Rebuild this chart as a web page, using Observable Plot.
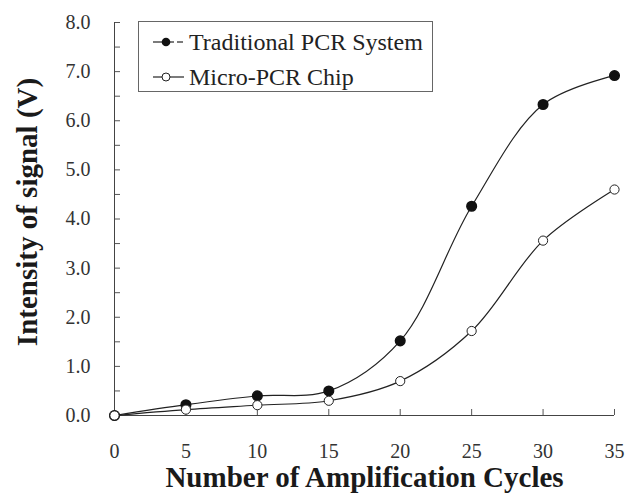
<!DOCTYPE html>
<html><head><meta charset="utf-8">
<script src="https://cdn.jsdelivr.net/npm/d3@7"></script>
<script src="https://cdn.jsdelivr.net/npm/@observablehq/plot@0.6"></script>
<style>
body{margin:0;background:#fff;}
#wrap{position:relative;width:626px;height:493px;}
#legend{position:absolute;left:138px;top:21px;width:293px;height:69px;border:1px solid #666;background:#fff;color:#222;}
.row{position:absolute;left:0;height:30px;display:flex;align-items:center;white-space:nowrap;}
.row svg{margin-left:14px;margin-right:2px;}
.row span{font-family:'Liberation Serif','Times New Roman',serif;font-size:24px;}
</style></head>
<body><div id="wrap"><div id="legend"></div></div>
<script>
const cycles = [0, 5, 10, 15, 20, 25, 30, 35];
const traditional = [0, 0.22, 0.40, 0.50, 1.52, 4.26, 6.33, 6.92];
const microChip = [0, 0.12, 0.21, 0.30, 0.70, 1.72, 3.56, 4.60];
const seriesNames = ["Traditional PCR System", "Micro-PCR Chip"];
const xTicks = [0, 5, 10, 15, 20, 25, 30, 35];
const yTicks = [0, 1, 2, 3, 4, 5, 6, 7, 8];
const yMinorTicks = [0, 0.5, 1, 1.5, 2, 2.5, 3, 3.5, 4, 4.5, 5, 5.5, 6, 6.5, 7, 7.5, 8];
const xTitle = "Number of Amplification Cycles";
const yTitle = "Intensity of signal (V)";

const tradData = cycles.map((c, i) => ({cycle: c, value: traditional[i], series: seriesNames[0]}));
const microData = cycles.map((c, i) => ({cycle: c, value: microChip[i], series: seriesNames[1]}));
const all = tradData.concat(microData);

const chart = Plot.plot({
  width: 626, height: 493,
  marginLeft: 114, marginRight: 12, marginTop: 22, marginBottom: 78,
  style: {fontFamily: "'Liberation Serif', serif", background: "#fff", color: "#222"},
  x: {domain: [0, 35]},
  y: {domain: [0, 8]},
  marks: [
    Plot.axisY(yMinorTicks, {tickSize: 6, dx: 6, tickFormat: () => "", label: null, stroke: "#555"}),
    Plot.axisY(yTicks, {tickSize: 0, tickPadding: 24, tickFormat: d3.format(".1f"), fontSize: 20, fill: "#333", label: null}),
    Plot.axisX(xTicks, {tickSize: 6, dy: -6, tickFormat: () => "", label: null, stroke: "#555"}),
    Plot.axisX(xTicks, {tickSize: 0, tickPadding: 28, fontSize: 20, fill: "#333", label: null}),
    Plot.ruleX([0], {stroke: "#444"}),
    Plot.ruleY([0], {stroke: "#444"}),
    Plot.line(all, {x: "cycle", y: "value", z: "series", curve: "catmull-rom", stroke: "#222", strokeWidth: 1.2}),
    Plot.dot(tradData, {x: "cycle", y: "value", r: 4.8, fill: "#111", stroke: "#111"}),
    Plot.dot(microData, {x: "cycle", y: "value", r: 4.6, fill: "#fff", stroke: "#222", strokeWidth: 1}),
    Plot.text([xTitle], {frameAnchor: "bottom", dy: 71, lineAnchor: "bottom", fontSize: 29, fontWeight: "bold", fill: "#1a1a1a"}),
    Plot.text([yTitle], {frameAnchor: "left", textAnchor: "middle", dx: -87, dy: -7, rotate: -90, lineAnchor: "middle", fontSize: 29, fontWeight: "bold", fill: "#1a1a1a"})
  ]
});
document.getElementById("wrap").prepend(chart);

const legend = document.getElementById("legend");
const swatches = [
  `<svg width="34" height="20"><line x1="0" y1="10" x2="21" y2="10" stroke="#222" stroke-width="1.2"/><line x1="24" y1="10" x2="30" y2="10" stroke="#222" stroke-width="1.2"/><circle cx="13" cy="10" r="4.3" fill="#111"/></svg>`,
  `<svg width="34" height="20"><line x1="0" y1="10" x2="31" y2="10" stroke="#222" stroke-width="1.2"/><circle cx="13" cy="10" r="4" fill="#fff" stroke="#222"/></svg>`
];
const rowTops = [5, 40];
seriesNames.forEach((name, i) => {
  const row = document.createElement("div");
  row.className = "row";
  row.style.top = rowTops[i] + "px";
  row.innerHTML = swatches[i] + `<span>${name}</span>`;
  legend.appendChild(row);
});
</script>
</body></html>
